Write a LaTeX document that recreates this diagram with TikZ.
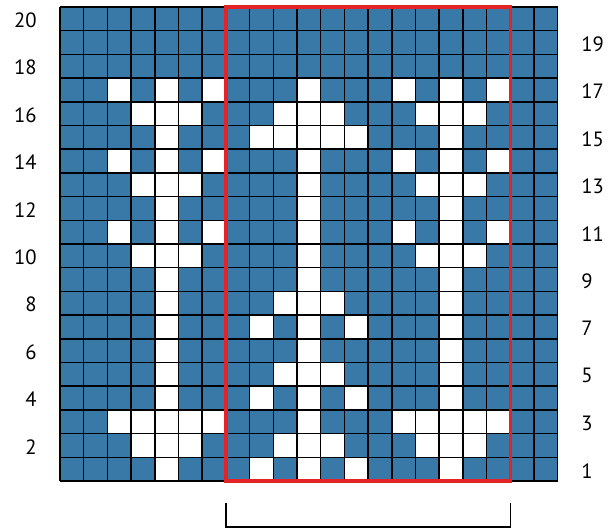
\documentclass[tikz,border=0pt]{standalone}
\usepackage{fontspec}
\setmainfont{PT Sans}
\definecolor{chartblue}{RGB}{56,121,168}
\definecolor{chartred}{RGB}{228,35,40}
\begin{document}
\begin{tikzpicture}[x=0.75pt,y=-0.75pt,
  gridline/.style={black,line width=1.1pt},
  redbox/.style={chartred,line width=2.4pt},
  bracketline/.style={black,line width=1pt},
  rowlab/.style={font=\fontsize{15.5}{18}\selectfont,inner sep=0pt}]
\def\cs{23.7}
\def\gx{60}
\def\gy{7}
\useasboundingbox (0,0) rectangle (609,531);
% blue background
\fill[chartblue] (\gx,\gy) rectangle ({\gx+21*\cs},{\gy+20*\cs});
% white cells
\foreach \r/\cols in {
  17/{2,4,6,10,14,16,18},
  16/{3,4,5,9,10,11,15,16,17},
  15/{4,8,9,10,11,12,16},
  14/{2,4,6,10,14,16,18},
  13/{3,4,5,10,15,16,17},
  12/{4,10,16},
  11/{2,4,6,10,14,16,18},
  10/{3,4,5,10,15,16,17},
  9/{4,10,16},
  8/{4,9,10,11,16},
  7/{4,8,10,12,16},
  6/{4,10,16},
  5/{4,9,10,11,16},
  4/{4,8,10,12,16},
  3/{2,3,4,5,6,10,14,15,16,17,18},
  2/{3,4,5,9,10,11,15,16,17},
  1/{4,8,10,12,16}}
{
  \foreach \c in \cols {
    \fill[white] ({\gx+\c*\cs},{\gy+(20-\r)*\cs}) rectangle ++(\cs,\cs);
  }
}
% grid lines
\foreach \i in {0,...,21}
  \draw[gridline] ({\gx+\i*\cs},\gy) -- ({\gx+\i*\cs},{\gy+20*\cs});
\foreach \j in {0,...,20}
  \draw[gridline] (\gx,{\gy+\j*\cs}) -- ({\gx+21*\cs},{\gy+\j*\cs});
% red box
\draw[redbox] ({\gx+7*\cs},\gy) rectangle ({\gx+19*\cs},{\gy+20*\cs});
% bracket
\coordinate (bl) at ({\gx+7*\cs},503);
\coordinate (br) at ({\gx+19*\cs},503);
\draw[bracketline] (bl) -- ++(0,24) -| (br);
% row labels
\foreach \r in {2,4,...,20}
  \node[rowlab,anchor=east] (lab\r) at (37,{\gy+(20-\r+0.5)*\cs+1.5}) {\r};
\foreach \r in {1,3,...,19}
  \node[rowlab,anchor=west] (lab\r) at (581,{\gy+(20-\r+0.5)*\cs+1.5}) {\r};
\end{tikzpicture}
\end{document}
